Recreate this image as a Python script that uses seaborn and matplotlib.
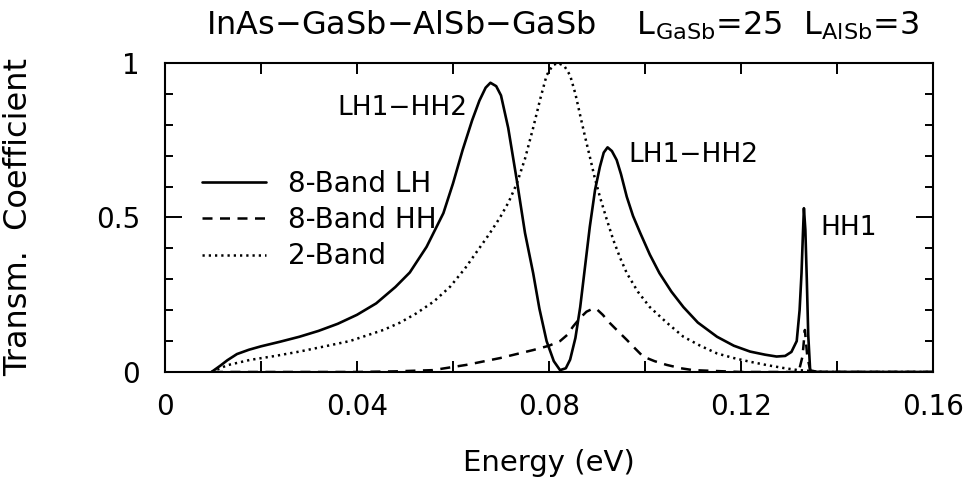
import matplotlib
matplotlib.use("Agg")
import matplotlib.pyplot as plt
from matplotlib.ticker import MultipleLocator
import seaborn as sns

# 8-Band LH (solid)
lh_energy = [0.0097, 0.0115, 0.0130, 0.0150, 0.0175, 0.0200, 0.0240, 0.0280, 0.0320, 0.0360,
             0.0400, 0.0440, 0.0480, 0.0510, 0.0545, 0.0580, 0.0600, 0.0620, 0.0640, 0.0655,
             0.0668, 0.0678, 0.0690, 0.0700, 0.0715, 0.0733, 0.0750, 0.0767, 0.0780, 0.0795,
             0.0810, 0.0823, 0.0835, 0.0844, 0.0855, 0.0865, 0.0875, 0.0885, 0.0896, 0.0906,
             0.0914, 0.0922, 0.0931, 0.0941, 0.0950, 0.0962, 0.0975, 0.0990, 0.1010, 0.1030,
             0.1055, 0.1080, 0.1110, 0.1150, 0.1185, 0.1219, 0.1250, 0.1274, 0.1292, 0.1305,
             0.1316, 0.1322, 0.1326, 0.1329, 0.1331, 0.1334, 0.1337, 0.1340, 0.1344, 0.1360,
             0.1600]
lh_trans = [0.0, 0.020, 0.038, 0.058, 0.072, 0.083, 0.098, 0.114, 0.133, 0.156,
            0.185, 0.222, 0.275, 0.322, 0.405, 0.514, 0.610, 0.718, 0.815, 0.878,
            0.920, 0.936, 0.925, 0.895, 0.790, 0.620, 0.450, 0.320, 0.205, 0.100,
            0.035, 0.006, 0.012, 0.040, 0.110, 0.210, 0.340, 0.470, 0.590, 0.664,
            0.710, 0.727, 0.715, 0.686, 0.640, 0.567, 0.505, 0.450, 0.380, 0.320,
            0.260, 0.210, 0.160, 0.114, 0.085, 0.066, 0.056, 0.050, 0.052, 0.065,
            0.100, 0.200, 0.320, 0.450, 0.530, 0.460, 0.300, 0.120, 0.005, 0.0,
            0.0]

# 8-Band HH (dashed)
hh_energy = [0.0100, 0.0400, 0.0480, 0.0558, 0.0628, 0.0698, 0.0767, 0.0800, 0.0823, 0.0838,
             0.0850, 0.0865, 0.0878, 0.0890, 0.0899, 0.0912, 0.0927, 0.0945, 0.0962, 0.0980,
             0.0996, 0.1020, 0.1045, 0.1075, 0.1100, 0.1200, 0.1320, 0.1328, 0.1333, 0.1338,
             0.1345, 0.1600]
hh_trans = [0.0, 0.0, 0.002, 0.006, 0.023, 0.045, 0.071, 0.085, 0.100, 0.120,
            0.147, 0.175, 0.195, 0.204, 0.204, 0.185, 0.158, 0.130, 0.104, 0.075,
            0.050, 0.035, 0.023, 0.012, 0.006, 0.0, 0.0, 0.050, 0.136, 0.050,
            0.0, 0.0]

# 2-Band (dotted)
tb_energy = [0.0097, 0.0130, 0.0177, 0.0230, 0.0280, 0.0330, 0.0385, 0.0455, 0.0490, 0.0524,
             0.0560, 0.0594, 0.0625, 0.0650, 0.0675, 0.0698, 0.0716, 0.0733, 0.0750, 0.0767,
             0.0782, 0.0795, 0.0808, 0.0819, 0.0832, 0.0844, 0.0855, 0.0865, 0.0875, 0.0885,
             0.0895, 0.0906, 0.0920, 0.0934, 0.0948, 0.0962, 0.0985, 0.1010, 0.1045, 0.1080,
             0.1115, 0.1150, 0.1185, 0.1219, 0.1255, 0.1288, 0.1319, 0.1340, 0.1370, 0.1600]
tb_trans = [0.0, 0.022, 0.039, 0.052, 0.066, 0.082, 0.100, 0.136, 0.160, 0.190,
            0.228, 0.276, 0.335, 0.390, 0.445, 0.500, 0.550, 0.610, 0.690, 0.790,
            0.885, 0.960, 0.993, 1.000, 0.990, 0.960, 0.900, 0.830, 0.762, 0.697,
            0.630, 0.567, 0.495, 0.427, 0.370, 0.320, 0.260, 0.210, 0.160, 0.114,
            0.085, 0.060, 0.045, 0.033, 0.022, 0.013, 0.006, 0.004, 0.0, 0.0]

x_ticks = [0, 0.04, 0.08, 0.12, 0.16]
x_tick_labels = ["0", "0.04", "0.08", "0.12", "0.16"]
y_ticks = [0, 0.5, 1]
y_tick_labels = ["0", "0.5", "1"]

sns.set_style("ticks")
plt.rcParams["font.family"] = ["DejaVu Sans"]
plt.rcParams["text.color"] = "black"
plt.rcParams["axes.labelcolor"] = "black"
plt.rcParams["xtick.color"] = "black"
plt.rcParams["ytick.color"] = "black"

fig = plt.figure(figsize=(9.76, 4.86), dpi=100)
ax = fig.add_axes([0.169, 0.2346, 0.787, 0.6358])

sns.lineplot(x=lh_energy, y=lh_trans, ax=ax, color="black", lw=1.9,
             linestyle="-", label="8-Band LH")
sns.lineplot(x=hh_energy, y=hh_trans, ax=ax, color="black", lw=1.8,
             linestyle=(0, (4.0, 3.0)), label="8-Band HH")
sns.lineplot(x=tb_energy, y=tb_trans, ax=ax, color="black", lw=1.8,
             linestyle=(0, (0.9, 1.6)), label="2-Band")

ax.set_xlim(0, 0.16)
ax.set_ylim(0, 1)
ax.set_xticks(x_ticks)
ax.set_xticklabels(x_tick_labels)
ax.set_yticks(y_ticks)
ax.set_yticklabels(y_tick_labels)
ax.xaxis.set_minor_locator(MultipleLocator(0.02))
ax.yaxis.set_minor_locator(MultipleLocator(0.1))
ax.tick_params(axis="both", which="both", direction="in", top=True, right=True,
               width=1.4, labelsize=20, color="black", labelcolor="black")
ax.tick_params(axis="x", which="both", length=8, pad=15)
ax.tick_params(axis="y", which="major", length=12, pad=18)
ax.tick_params(axis="y", which="minor", length=6)
for sp in ax.spines.values():
    sp.set_linewidth(1.5)
    sp.set_color("black")

ax.set_xlabel("Energy (eV)", fontsize=21, labelpad=20)
ax.set_ylabel("Transm.  Coefficient", fontsize=23)
ax.yaxis.set_label_coords(-0.17, 0.5)

ax.legend(loc="upper left", bbox_to_anchor=(0.048, 0.655), frameon=False,
          fontsize=20, handlelength=2.3, handletextpad=0.8, labelspacing=0.3,
          borderpad=0, borderaxespad=0)

ax.text(0.0631, 0.855, "LH1\u2212HH2", fontsize=19, ha="right", va="center")
ax.text(0.0965, 0.702, "LH1\u2212HH2", fontsize=19, ha="left", va="center")
ax.text(0.1365, 0.466, "HH1", fontsize=19, ha="left", va="center")

fig.text(0.576, 0.928,
         r"InAs$-$GaSb$-$AlSb$-$GaSb    L$_{\rm GaSb}$=25  L$_{\rm AlSb}$=3",
         fontsize=23, ha="center", va="baseline")

fig.savefig("out.png", dpi=100)
